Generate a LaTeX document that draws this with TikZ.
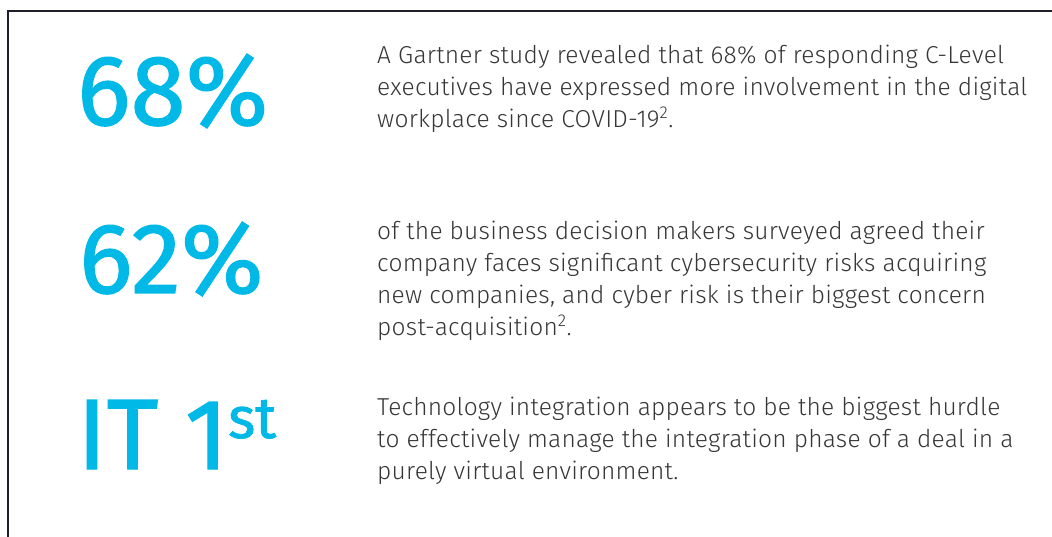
\documentclass[tikz,border=0pt]{standalone}
\usepackage{fontspec}
\setmainfont{Fira Sans Light}[LetterSpace=1.0]
\newfontfamily\bignum{Fira Sans}[FakeBold=1.2]
\usetikzlibrary{positioning}
\definecolor{statblue}{HTML}{00B9E6}
\definecolor{bodygray}{HTML}{363636}
\definecolor{framecol}{HTML}{1E1E2C}

\begin{document}
\begin{tikzpicture}[x=1pt,y=-1pt,inner sep=0pt]
  \tikzstyle{stat}=[anchor=base west,text=statblue,font=\bignum\fontsize{100}{100}\selectfont]
  \tikzstyle{blurb}=[anchor=north west,align=left,text=bodygray,font=\fontsize{24.5}{32}\selectfont]

  \useasboundingbox (0,0) rectangle (1052,537);
  \draw[framecol,line width=2pt] (1052,11) -- (8,11) -- (8,537);

  \node[stat] (s1) at (77,125) {68\%};
  \node[stat] (s2) at (79,293) {62\%};
  \node[stat] (s3) at (77,469) {IT 1\raisebox{31pt}{\fontsize{58}{58}\selectfont st}};

  \node[blurb] (t1) at (377,45) {A Gartner study revealed that 68\% of responding C-Level\\
    executives have expressed more involvement in the digital\\
    workplace since COVID-19\textsuperscript{2}.};
  \node[blurb] (t2) at (377,221) {of the business decision makers surveyed agreed their\\
    company faces significant cybersecurity risks acquiring\\
    new companies, and cyber risk is their biggest concern\\
    post-acquisition\textsuperscript{2}.};
  \node[blurb] (t3) at (377,397) {Technology integration appears to be the biggest hurdle\\
    to effectively manage the integration phase of a deal in a\\
    purely virtual environment.};
\end{tikzpicture}
\end{document}
